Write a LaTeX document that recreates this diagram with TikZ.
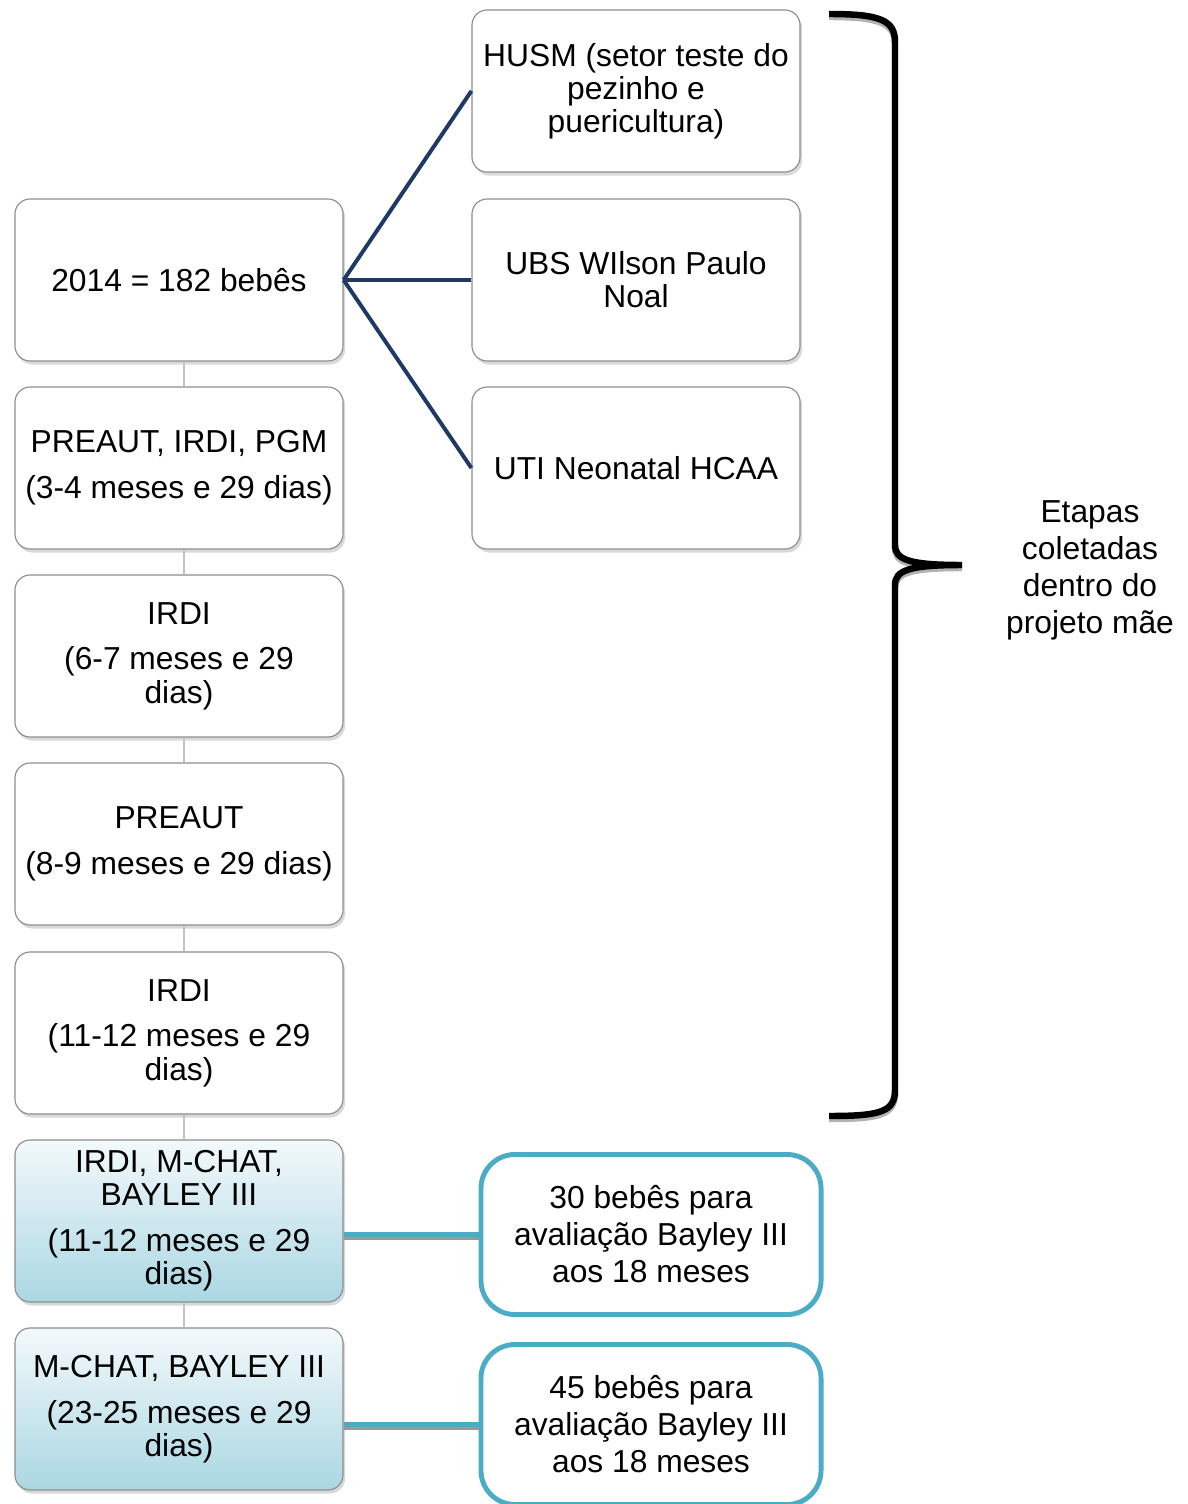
\documentclass[tikz,border=0pt]{standalone}
\usepackage{fontspec}
\setmainfont{Liberation Sans}
\usetikzlibrary{shadows}
\definecolor{azulescuro}{RGB}{31,56,100}
\definecolor{azulclaro}{RGB}{75,172,198}
\definecolor{cinzalinha}{RGB}{195,195,195}
\definecolor{cinzaborda}{RGB}{140,140,140}
\definecolor{topo}{RGB}{243,249,251}
\definecolor{fundo}{RGB}{170,215,227}
\begin{document}
\begin{tikzpicture}[x=0.025cm, y=-0.025cm,
  etapa/.style={draw=cinzaborda, line width=0.8pt, fill=white,
    rounded corners=0.38cm, minimum width=8.2cm, minimum height=4.05cm,
    inner sep=1pt, align=center, font=\fontsize{22.6}{23.5}\selectfont,
    drop shadow={shadow xshift=1.5pt, shadow yshift=-2.5pt, opacity=0.3}},
  etapa azul/.style={etapa, top color=topo, bottom color=fundo},
  amostra/.style={draw=azulclaro, line width=3.5pt, fill=white,
    rounded corners=0.85cm, minimum width=8.5cm, minimum height=4cm,
    inner sep=1pt, align=center, font=\fontsize{22.6}{26.3}\selectfont},
  ramo/.style={azulescuro, line width=2.8pt},
  fio/.style={cinzalinha, line width=0.9pt},
  ligacao/.style={azulclaro, line width=3pt}]
\useasboundingbox (0,0) rectangle (1188,1504);
% coluna da esquerda
\node[etapa] (e1) at (179,280) {2014 = 182 bebês};
\node[etapa] (e2) at (179,468) {PREAUT, IRDI, PGM\\[9pt](3-4 meses e 29 dias)};
\node[etapa] (e3) at (179,656) {IRDI\\[9pt](6-7 meses e 29\\dias)};
\node[etapa] (e4) at (179,844) {PREAUT\\[9pt](8-9 meses e 29 dias)};
\node[etapa] (e5) at (179,1033) {IRDI\\[9pt](11-12 meses e 29\\dias)};
\node[etapa azul] (e6) at (179,1221) {IRDI, M-CHAT,\\BAYLEY III\\[9pt](11-12 meses e 29\\dias)};
\node[etapa azul] (e7) at (179,1409) {M-CHAT, BAYLEY III\\[9pt](23-25 meses e 29\\dias)};
\foreach \a/\b in {e1/e2, e2/e3, e3/e4, e4/e5, e5/e6, e6/e7}
  \draw[fio] ([xshift=3.5pt]\a.south) -- ([xshift=3.5pt]\b.north);
% locais de coleta
\node[etapa] (l1) at (636,91) {HUSM (setor teste do\\pezinho e\\puericultura)};
\node[etapa] (l2) at (636,280) {UBS WIlson Paulo\\Noal};
\node[etapa] (l3) at (636,468) {UTI Neonatal HCAA};
\foreach \n in {1,2,3}
  \draw[ramo] (e1.east) -- (l\n.west);
% amostras Bayley
\node[amostra] (a1) at (651,1234.5) {30 bebês para\\avaliação Bayley III\\aos 18 meses};
\node[amostra] (a2) at (651,1424.5) {45 bebês para\\avaliação Bayley III\\aos 18 meses};
\foreach \a/\b in {e6/a1, e7/a2}
  {\draw[gray!80, line width=3pt] ([yshift=-2.6pt]\a.east |- \b.west) -- ([yshift=-2.6pt]\b.west);
   \draw[ligacao] (\a.east |- \b.west) -- (\b.west);};
% chave
\foreach \cor/\dy in {gray!60/3, black/0}
  \draw[\cor, line width=4.6pt, shift={(0,\dy)}]
    (829,14) .. controls (880,14) and (895,20) .. (895,42) -- (895,545)
    .. controls (895,560) and (910,565) .. (962,565)
    .. controls (910,565) and (895,570) .. (895,585) -- (895,1090)
    .. controls (895,1112) and (880,1116) .. (829,1116);
\node[font=\fontsize{22.6}{26.3}\selectfont, align=center] (rotulo) at (1090,570)
  {Etapas\\coletadas\\dentro do\\projeto mãe};
\end{tikzpicture}
\end{document}
